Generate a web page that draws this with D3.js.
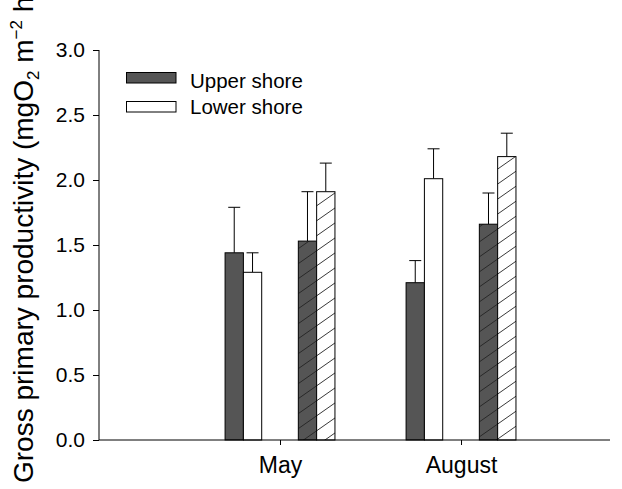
<!DOCTYPE html>
<html>
<head>
<meta charset="utf-8">
<script src="https://cdn.jsdelivr.net/npm/d3@7"></script>
<style>
  html, body { margin: 0; padding: 0; background: #fff; }
  svg { display: block; font-family: "Liberation Sans", Arial, Helvetica, sans-serif; }
</style>
</head>
<body>
<svg id="chart" width="622" height="489"></svg>
<script>
// ---- data ----
const categories = ["May", "August"];
const seriesNames = ["Upper shore", "Lower shore", "Upper shore (hatched)", "Lower shore (hatched)"];
const upperShore = [1.44, 1.21];
const upperShoreErr = [0.35, 0.17];
const lowerShore = [1.29, 2.01];
const lowerShoreErr = [0.15, 0.23];
const upperShoreHatched = [1.53, 1.66];
const upperShoreHatchedErr = [0.38, 0.24];
const lowerShoreHatched = [1.91, 2.18];
const lowerShoreHatchedErr = [0.22, 0.18];
const yTicks = [0.0, 0.5, 1.0, 1.5, 2.0, 2.5, 3.0];
const legendNames = ["Upper shore", "Lower shore"];

const seriesValues = [upperShore, lowerShore, upperShoreHatched, lowerShoreHatched];
const seriesErrors = [upperShoreErr, lowerShoreErr, upperShoreHatchedErr, lowerShoreHatchedErr];
const seriesFill = ["#555555", "#ffffff", "url(#hatchDark)", "url(#hatchLight)"];
const seriesSlot = ["s0", "s1", "s4", "s5"];

const svg = d3.select("#chart");
const mLeft = 99, mRight = 610, mTop = 50, mBottom = 440;

const y = d3.scaleLinear().domain([0, 3]).range([mBottom, mTop]);
// category positions along a continuous x axis (category i at i+1)
const x = d3.scaleLinear().domain([0, 2.823]).range([mLeft, mRight]);
const groupWidth = 0.607; // in x-units
const slot = d3.scaleBand().domain(["s0","s1","s2","s3","s4","s5"])
  .range([-groupWidth / 2, groupWidth / 2]);

// ---- patterns ----
const defs = svg.append("defs");
function hatch(id, bg) {
  const p = defs.append("pattern").attr("id", id)
    .attr("patternUnits", "userSpaceOnUse")
    .attr("width", 10).attr("height", 15)
    .attr("patternTransform", "skewY(-35)");
  p.append("rect").attr("width", 10).attr("height", 15).attr("fill", bg);
  p.append("line").attr("x1", -1).attr("x2", 11).attr("y1", 7.5).attr("y2", 7.5)
    .attr("stroke", "#222").attr("stroke-width", 0.9);
}
hatch("hatchDark", "#555555");
hatch("hatchLight", "#ffffff");

// ---- bars ----
const barData = [];
categories.forEach((c, ci) => {
  seriesValues.forEach((vals, si) => {
    barData.push({ c, ci, si, v: vals[ci], e: seriesErrors[si][ci] });
  });
});

const px = d => x(d.ci + 1 + slot(seriesSlot[d.si]));
const bw = x(slot.bandwidth()) - x(0);

// error bars (behind bars)
const eg = svg.append("g").attr("stroke", "#000").attr("stroke-width", 1);
barData.forEach(d => {
  const cx = px(d) + bw / 2;
  eg.append("line").attr("x1", cx).attr("x2", cx).attr("y1", y(d.v)).attr("y2", y(d.v + d.e));
  eg.append("line").attr("x1", cx - 6).attr("x2", cx + 6).attr("y1", y(d.v + d.e)).attr("y2", y(d.v + d.e));
});

svg.append("g").selectAll("rect").data(barData).join("rect")
  .attr("x", d => px(d))
  .attr("y", d => y(d.v))
  .attr("width", bw)
  .attr("height", d => y(0) - y(d.v))
  .attr("fill", d => seriesFill[d.si])
  .attr("stroke", "#000")
  .attr("stroke-width", 1);

// ---- axes ----
const yAxis = d3.axisLeft(y).tickValues(yTicks).tickFormat(d3.format(".1f")).tickSize(6).tickPadding(8);
const yg = svg.append("g").attr("transform", `translate(${mLeft},0)`).call(yAxis);
yg.select(".domain").attr("d", `M-0,${mBottom}V${mTop}`);
yg.selectAll("text").attr("font-size", 21).attr("font-family", "Liberation Sans, Arial, sans-serif").attr("fill", "#000");

const xAxis = d3.axisBottom(x).tickValues(categories.map((c, i) => i + 1))
  .tickFormat((d, i) => categories[i]).tickSize(5).tickPadding(12);
const xg = svg.append("g").attr("transform", `translate(0,${mBottom})`).call(xAxis);
xg.select(".domain").attr("d", `M${mLeft},0H${mRight}`);
xg.selectAll("text").attr("font-size", 23).attr("font-family", "Liberation Sans, Arial, sans-serif").attr("fill", "#000");

// ---- y title ----
const t = svg.append("text")
  .attr("transform", `translate(33,483) rotate(-90)`)
  .attr("text-anchor", "start")
  .attr("font-size", 28)
  .attr("fill", "#000");
t.append("tspan").text("Gross primary productivity (mgO");
t.append("tspan").attr("font-size", 17).attr("dy", 6).text("2");
t.append("tspan").attr("dy", -6).text(" m");
t.append("tspan").attr("font-size", 17).attr("dy", -11).text("\u22122");
t.append("tspan").attr("dy", 11).text(" h");
t.append("tspan").attr("font-size", 17).attr("dy", -11).text("\u22121");
t.append("tspan").attr("dy", 11).text(")");

// ---- legend ----
const lg = svg.append("g");
legendNames.forEach((n, i) => {
  lg.append("rect").attr("x", 126.5).attr("y", 72.5 + i * 29).attr("width", 49.5).attr("height", 10.5)
    .attr("fill", seriesFill[i]).attr("stroke", "#000").attr("stroke-width", 1);
  lg.append("text").attr("x", 190).attr("y", 88 + i * 25.5).attr("font-size", 20.5).attr("fill", "#000").text(n);
});
</script>
</body>
</html>
